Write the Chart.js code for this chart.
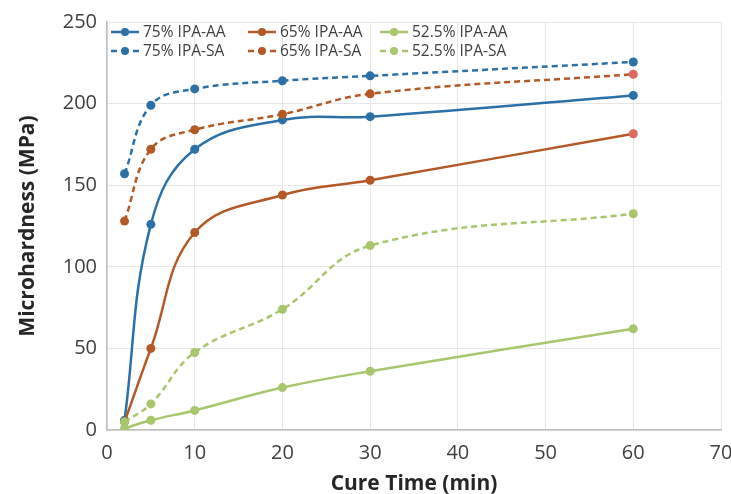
<!DOCTYPE html>
<html>
<head>
<meta charset="utf-8">
<script src="https://cdn.jsdelivr.net/npm/chart.js@4.4.1/dist/chart.umd.min.js"></script>
<style>
  body { margin: 0; background: #fff; }
  #wrap { width: 731px; height: 494px; }
</style>
</head>
<body>
<div id="wrap"><canvas id="chartLine"></canvas></div>
<script>
// cure time (min) and microhardness (MPa)
var cureTime = [2, 5, 10, 20, 30, 60];
var ipa75AA = [6, 126, 172, 190, 192, 205];
var ipa75SA = [157, 199, 209, 214, 217, 225.5];
var ipa65AA = [5, 50, 121, 144, 153, 181.5];
var ipa65SA = [128, 172, 184, 193.5, 206, 218];
var ipa52AA = [1, 6, 12, 26, 36, 62];
var ipa52SA = [5, 16, 47.5, 74, 113, 132.5];

var blue = '#2b71a7';
var orange = '#b45926';
var green = '#a8c66b';
var salmon = '#de675e';

function pts(values) {
    return cureTime.map(function (t, i) { return { x: t, y: values[i] }; });
}

function series(label, values, color, dashed, lastColor) {
    var fills = values.map(function (v, i) {
        return (lastColor && i === values.length - 1) ? lastColor : color;
    });
    return {
        label: label,
        data: pts(values),
        borderColor: color,
        backgroundColor: color,
        pointBackgroundColor: fills,
        pointBorderColor: fills,
        borderWidth: 2.5,
        borderDash: dashed ? [6, 4] : [],
        pointRadius: 4.5,
        pointBorderWidth: 0,
        tension: 0.4,
        fill: false
    };
}

var datasets = [
    series('52.5% IPA-AA', ipa52AA, green, false),
    series('52.5% IPA-SA', ipa52SA, green, true),
    series('65% IPA-AA', ipa65AA, orange, false, salmon),
    series('65% IPA-SA', ipa65SA, orange, true, salmon),
    series('75% IPA-AA', ipa75AA, blue, false),
    series('75% IPA-SA', ipa75SA, blue, true)
];

// legend drawn inside the plot, 3 columns x 2 rows like the original
var legendOrder = [
    ['75% IPA-AA', '65% IPA-AA', '52.5% IPA-AA'],
    ['75% IPA-SA', '65% IPA-SA', '52.5% IPA-SA']
];
var legendCols = [111, 248, 380];
var legendRows = [32, 51];

var insideLegend = {
    id: 'insideLegend',
    afterDraw: function (chart) {
        var ctx = chart.ctx;
        ctx.save();
        ctx.font = '15.5px "Open Sans"';
        ctx.textBaseline = 'middle';
        legendOrder.forEach(function (row, r) {
            row.forEach(function (label, c) {
                var ds = chart.data.datasets.find(function (d) { return d.label === label; });
                var x = legendCols[c], y = legendRows[r];
                ctx.strokeStyle = ds.borderColor;
                ctx.fillStyle = ds.borderColor;
                ctx.lineWidth = 2.5;
                ctx.beginPath();
                if (ds.borderDash.length) {
                    ctx.moveTo(x, y); ctx.lineTo(x + 6, y);
                    ctx.moveTo(x + 22, y); ctx.lineTo(x + 28, y);
                } else {
                    ctx.moveTo(x, y); ctx.lineTo(x + 28, y);
                }
                ctx.stroke();
                ctx.beginPath();
                ctx.arc(x + 14, y, 4, 0, Math.PI * 2);
                ctx.fill();
                ctx.fillStyle = '#404040';
                ctx.fillText(label, x + 32, y + 1);
            });
        });
        ctx.restore();
    }
};

new Chart(document.getElementById('chartLine'), {
    type: 'line',
    data: { datasets: datasets },
    plugins: [insideLegend],
    options: {
        responsive: true,
        maintainAspectRatio: false,
        animation: false,
        layout: { padding: { top: 22, right: 0, left: 0, bottom: 0 } },
        plugins: {
            legend: { display: false },
            tooltip: { enabled: false }
        },
        scales: {
            x: {
                type: 'linear',
                min: 0,
                max: 70,
                ticks: {
                    stepSize: 10,
                    padding: 11,
                    color: '#404040',
                    font: { family: 'Open Sans', size: 20 }
                },
                grid: { color: '#e6e6e6', drawTicks: false },
                border: { color: '#bfbfbf', width: 1.5 },
                title: {
                    display: true,
                    text: 'Cure Time (min)',
                    color: '#262626',
                    font: { family: 'Open Sans', size: 21, weight: 'bold' },
                    padding: { top: 0, bottom: -3 }
                },
                afterFit: function (scale) {
                    scale.height = 64;
                    scale.paddingLeft = 0;
                    scale.paddingRight = 10;
                }
            },
            y: {
                min: 0,
                max: 250,
                ticks: {
                    stepSize: 50,
                    padding: 10,
                    color: '#404040',
                    font: { family: 'Open Sans', size: 20 }
                },
                grid: { color: '#e6e6e6', drawTicks: false },
                border: { color: '#bfbfbf', width: 1.5 },
                title: {
                    display: true,
                    text: 'Microhardness (MPa)',
                    color: '#262626',
                    font: { family: 'Open Sans', size: 21, weight: 'bold' },
                    padding: { top: 15, bottom: 0 }
                },
                afterFit: function (scale) {
                    scale.width = 107;
                    scale.paddingTop = 0;
                    scale.paddingBottom = 0;
                }
            }
        }
    }
});
</script>
</body>
</html>
